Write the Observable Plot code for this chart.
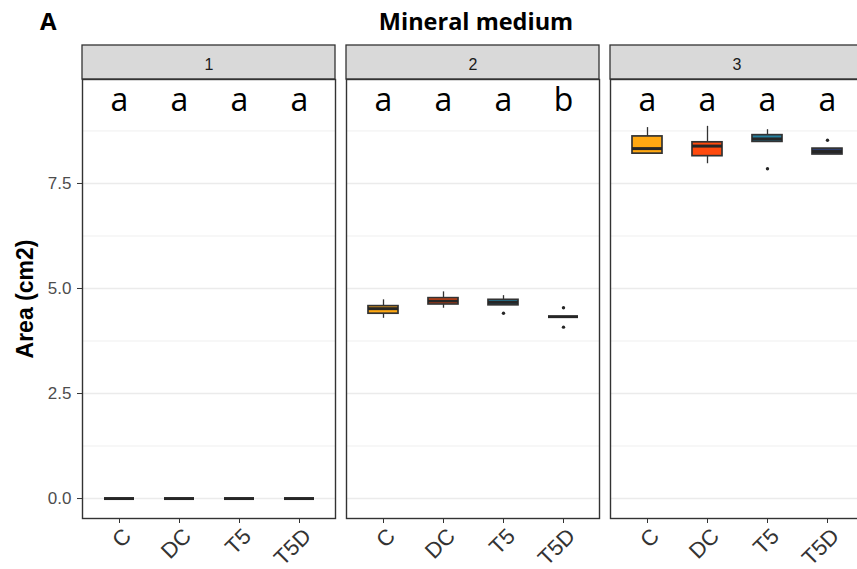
<!DOCTYPE html>
<html><head><meta charset="utf-8">
<script src="https://cdn.jsdelivr.net/npm/d3@7"></script>
<script src="https://cdn.jsdelivr.net/npm/@observablehq/plot@0.6"></script>
<style>
html,body{margin:0;padding:0;background:#fff;overflow:hidden;width:857px;height:569px}
#head{position:relative;height:45px;font-family:"Open Sans",sans-serif;font-weight:700;font-size:23.5px;line-height:24px;color:#000}
#tag{position:absolute;left:40px;top:9px;font-size:24px}
#title{position:absolute;left:0;width:952px;top:9px;text-align:center}
#chart{width:864px}
#chart svg{display:block;max-width:none !important;width:864px;height:524px}
</style></head>
<body>
<div id="head"><div id="tag">A</div><div id="title">Mineral medium</div></div>
<div id="chart"></div>
<script>
const panels = ["1", "2", "3"];
const treatments = ["C", "DC", "T5", "T5D"];
const fills = ["#FFA812", "#FF4A0E", "#25809F", "#2D3C6B"];
// per panel (rows) x treatment (columns)
const lowerWhisker  = [[0, 0, 0, 0], [4.29, 4.53, 4.60, 4.33], [8.19, 7.97, 8.49, 8.19]];
const lowerQuartile = [[0, 0, 0, 0], [4.40, 4.62, 4.60, 4.33], [8.21, 8.15, 8.49, 8.19]];
const medianArea    = [[0, 0, 0, 0], [4.52, 4.70, 4.67, 4.33], [8.33, 8.39, 8.56, 8.26]];
const upperQuartile = [[0, 0, 0, 0], [4.58, 4.77, 4.73, 4.33], [8.62, 8.48, 8.65, 8.33]];
const upperWhisker  = [[0, 0, 0, 0], [4.73, 4.92, 4.83, 4.33], [8.83, 8.86, 8.78, 8.33]];
const letters = [["a", "a", "a", "a"], ["a", "a", "a", "b"], ["a", "a", "a", "a"]];
const letterY = 9.5;
const outlierPanel = ["2", "2", "2", "3", "3"];
const outlierTreatment = ["T5", "T5D", "T5D", "T5", "T5D"];
const outlierArea = [4.41, 4.54, 4.08, 7.85, 8.53];
const yTicks = [0, 2.5, 5, 7.5];
const yMinor = [1.25, 3.75, 6.25, 8.75];
const yDomain = [-0.475, 9.975];

const rows = [];
panels.forEach((p, i) => treatments.forEach((t, j) => rows.push({
  panel: p, treatment: t,
  min: lowerWhisker[i][j], q1: lowerQuartile[i][j], med: medianArea[i][j],
  q3: upperQuartile[i][j], max: upperWhisker[i][j], letter: letters[i][j]
})));
const outliers = outlierArea.map((v, k) => ({panel: outlierPanel[k], treatment: outlierTreatment[k], area: v}));

const W = 864, H = 524, mt = 34, mb = 51, ml = 82, mr = 1;
const unitsPerPx = (yDomain[1] - yDomain[0]) / (H - mt - mb);
const stripTop = yDomain[1] + mt * unitsPerPx;

const chart = Plot.plot({
  width: W, height: H,
  marginTop: mt, marginBottom: mb, marginLeft: ml, marginRight: mr,
  style: {fontFamily: "Liberation Sans, Arial, sans-serif", background: "#fff", overflow: "visible"},
  fx: {domain: panels, paddingInner: 11 / 264, paddingOuter: 0, axis: null, label: null},
  x: {domain: treatments, paddingInner: 0.5, paddingOuter: 0.35, axis: null, label: null},
  y: {domain: yDomain, axis: null, label: null},
  color: {domain: treatments, range: fills},
  marks: [
    Plot.gridY(yMinor, {stroke: "#EBEBEB", strokeOpacity: 1, strokeWidth: 0.8}),
    Plot.gridY(yTicks, {stroke: "#EBEBEB", strokeOpacity: 1, strokeWidth: 1.4}),
    Plot.ruleX(rows, {fx: "panel", x: "treatment", y1: "min", y2: "max", stroke: "#333", strokeWidth: 1.3}),
    Plot.barY(rows, {fx: "panel", x: "treatment", y1: "q1", y2: "q3", fill: "treatment", stroke: "#333", strokeWidth: 1.7}),
    Plot.tickY(rows, {fx: "panel", x: "treatment", y: "med", stroke: "#262626", strokeWidth: 3}),
    Plot.dot(outliers, {fx: "panel", x: "treatment", y: "area", r: 1.7, fill: "#262626", stroke: null}),
    Plot.text(rows, {fx: "panel", x: "treatment", y: () => letterY, text: "letter", fontSize: 32, fontFamily: "Open Sans", fill: "#000", lineAnchor: "middle", dy: 1}),
    Plot.rect(panels, {fx: d => d, y1: yDomain[1], y2: stripTop, fill: "#D9D9D9", stroke: "#333", strokeWidth: 1.3}),
    Plot.text(panels, {fx: d => d, text: d => d, frameAnchor: "top", dy: -15, fontSize: 16, fill: "#1A1A1A", lineAnchor: "middle"}),
    Plot.frame({stroke: "#333", strokeWidth: 1.4}),
    Plot.axisY(yTicks, {tickFormat: d3.format(".1f"), tickSize: 5, tickPadding: 6, fontSize: 17, stroke: "#333", fill: "#4D4D4D", label: null}),
    Plot.axisX({tickSize: 5, tickFormat: () => "", stroke: "#333", label: null}),
    Plot.text(rows, {fx: "panel", x: "treatment", text: "treatment", frameAnchor: "bottom", dx: 8, dy: 14, rotate: -45, textAnchor: "end", lineAnchor: "middle", fontSize: 22, fill: "#333"}),
    Plot.text(["Area (cm2)"], {fx: () => "1", frameAnchor: "left", dx: -57, rotate: -90, textAnchor: "middle", lineAnchor: "middle", fontSize: 23, fontWeight: "bold", fill: "#000"})
  ]
});
document.getElementById("chart").appendChild(chart);
</script>
</body></html>
